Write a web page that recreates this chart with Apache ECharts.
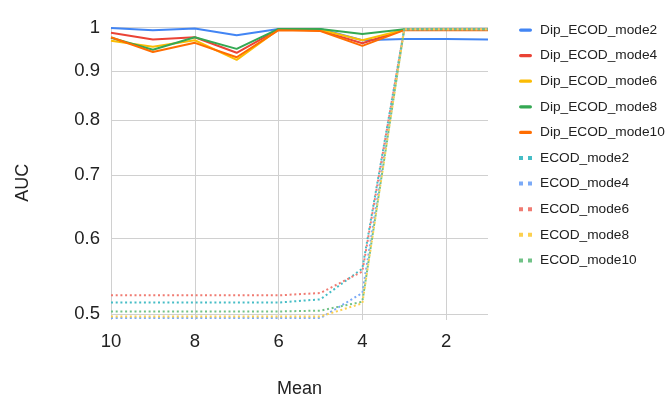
<!DOCTYPE html>
<html>
<head>
<meta charset="utf-8">
<script src="https://cdn.jsdelivr.net/npm/echarts@6/dist/echarts.min.js"></script>
<style>html,body{margin:0;padding:0;background:#fff}#c{width:665px;height:400px}</style>
</head>
<body>
<div id="c"></div>
<script>
const means = [10, 9, 8, 7, 6, 5, 4, 3, 2, 1];
const xTicks = [2, 4, 6, 8, 10];
const yTicks = [0.5, 0.6, 0.7, 0.8, 0.9, 1];

const dipMode2  = [0.999, 0.994, 0.998, 0.982, 0.997, 0.997, 0.970, 0.973, 0.973, 0.972];
const dipMode4  = [0.988, 0.972, 0.977, 0.941, 0.996, 0.993, 0.963, 0.995, 0.995, 0.995];
const dipMode6  = [0.969, 0.955, 0.970, 0.925, 0.996, 0.995, 0.970, 0.995, 0.995, 0.995];
const dipMode8  = [0.976, 0.948, 0.977, 0.950, 0.997, 0.997, 0.985, 0.996, 0.996, 0.996];
const dipMode10 = [0.977, 0.943, 0.964, 0.931, 0.994, 0.992, 0.957, 0.994, 0.994, 0.994];

const ecodMode2  = [0.514, 0.514, 0.514, 0.514, 0.514, 0.518, 0.558, 0.996, 0.996, 0.996];
const ecodMode4  = [0.495, 0.495, 0.495, 0.495, 0.495, 0.495, 0.526, 0.996, 0.996, 0.996];
const ecodMode6  = [0.523, 0.523, 0.523, 0.523, 0.523, 0.526, 0.554, 0.996, 0.996, 0.996];
const ecodMode8  = [0.497, 0.497, 0.497, 0.497, 0.497, 0.497, 0.513, 0.996, 0.996, 0.996];
const ecodMode10 = [0.503, 0.503, 0.503, 0.503, 0.503, 0.504, 0.515, 0.996, 0.996, 0.996];

const seriesDefs = [
  ['Dip_ECOD_mode2', dipMode2, '#4285F4', false],
  ['Dip_ECOD_mode4', dipMode4, '#EA4335', false],
  ['Dip_ECOD_mode6', dipMode6, '#FBBC04', false],
  ['Dip_ECOD_mode8', dipMode8, '#34A853', false],
  ['Dip_ECOD_mode10', dipMode10, '#FF6D01', false],
  ['ECOD_mode2', ecodMode2, '#46BDC6', true],
  ['ECOD_mode4', ecodMode4, '#7BAAF7', true],
  ['ECOD_mode6', ecodMode6, '#F07B72', true],
  ['ECOD_mode8', ecodMode8, '#FCD04F', true],
  ['ECOD_mode10', ecodMode10, '#71C287', true]
];

const FONT = '"Liberation Sans", Arial, sans-serif';
const solidIcon = 'path://M1,0h12a1,1 0 0 1 0,4h-12a1,1 0 0 1 0,-4z';
const dotIcon = 'path://M0,0h4v4h-4z M9,0h4v4h-4z';

const chart = echarts.init(document.getElementById('c'), null, {renderer: 'canvas'});
chart.setOption({
  animation: false,
  backgroundColor: '#fff',
  textStyle: {fontFamily: FONT},
  grid: {left: 111, right: 177, top: 27.7, bottom: 80, containLabel: false, outerBoundsMode: 'none'},
  legend: {
    orient: 'vertical', left: 514, top: 18,
    itemWidth: 13, itemHeight: 4, itemGap: 11.6,
    textStyle: {fontSize: 13.7, color: '#222', fontFamily: FONT, padding: [0, 0, 0, 3]},
    data: seriesDefs.map(d => ({name: d[0], icon: d[3] ? dotIcon : solidIcon}))
  },
  xAxis: {
    type: 'value', inverse: true, min: 1, max: 10,
    name: 'Mean', nameLocation: 'middle', nameGap: 60,
    nameTextStyle: {fontSize: 18, color: '#222', fontFamily: FONT},
    axisLine: {show: false}, axisTick: {show: false, customValues: xTicks},
    axisLabel: {customValues: xTicks, fontSize: 18.5, color: '#222', margin: 12, fontFamily: FONT},
    splitLine: {show: true, lineStyle: {color: '#d0d0d0', width: 1}}
  },
  yAxis: {
    type: 'log', logBase: 10, min: 0.4927, max: 1,
    name: 'AUC', nameLocation: 'middle', nameGap: 79, nameRotate: 90,
    nameTextStyle: {fontSize: 18, color: '#222', fontFamily: FONT, align: 'center', verticalAlign: 'bottom', lineHeight: 18, padding: [0, 18, 0, 0]},
    axisLine: {show: false}, axisTick: {show: false, customValues: yTicks},
    axisLabel: {customValues: yTicks, fontSize: 18.5, color: '#222', margin: 11, fontFamily: FONT,
      formatter: v => String(Math.round(v * 10) / 10)},
    splitLine: {show: true, lineStyle: {color: '#d0d0d0', width: 1}}
  },
  series: seriesDefs.map(d => ({
    name: d[0], type: 'line', showSymbol: false, symbol: 'none',
    data: means.map((m, i) => [m, d[1][i]]),
    itemStyle: {color: d[2]},
    lineStyle: {color: d[2], width: 2, type: d[3] ? [2, 2.7] : 'solid'}
  }))
});
</script>
</body>
</html>
